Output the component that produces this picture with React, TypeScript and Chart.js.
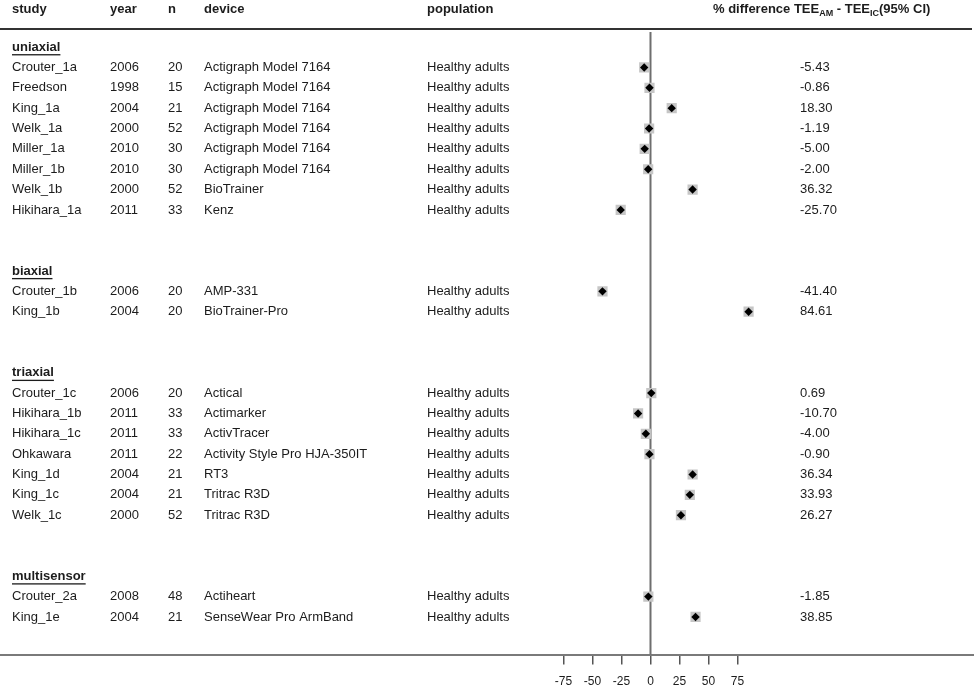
import { useEffect, useRef } from 'react';
import { Chart, registerables } from 'chart.js';

Chart.register(...registerables);

const groups = ['uniaxial', 'biaxial', 'triaxial', 'multisensor'];
const groupSizes = [8, 2, 7, 2];
const studies = [
  'Crouter_1a', 'Freedson', 'King_1a', 'Welk_1a', 'Miller_1a', 'Miller_1b', 'Welk_1b', 'Hikihara_1a',
  'Crouter_1b', 'King_1b',
  'Crouter_1c', 'Hikihara_1b', 'Hikihara_1c', 'Ohkawara', 'King_1d', 'King_1c', 'Welk_1c',
  'Crouter_2a', 'King_1e',
];
const years = [
  '2006', '1998', '2004', '2000', '2010', '2010', '2000', '2011',
  '2006', '2004',
  '2006', '2011', '2011', '2011', '2004', '2004', '2000',
  '2008', '2004',
];
const sampleSizes = [
  '20', '15', '21', '52', '30', '30', '52', '33',
  '20', '20',
  '20', '33', '33', '22', '21', '21', '52',
  '48', '21',
];
const devices = [
  'Actigraph Model 7164', 'Actigraph Model 7164', 'Actigraph Model 7164', 'Actigraph Model 7164',
  'Actigraph Model 7164', 'Actigraph Model 7164', 'BioTrainer', 'Kenz',
  'AMP-331', 'BioTrainer-Pro',
  'Actical', 'Actimarker', 'ActivTracer', 'Activity Style Pro HJA-350IT', 'RT3', 'Tritrac R3D', 'Tritrac R3D',
  'Actiheart', 'SenseWear Pro ArmBand',
];
const populations = [
  'Healthy adults', 'Healthy adults', 'Healthy adults', 'Healthy adults', 'Healthy adults',
  'Healthy adults', 'Healthy adults', 'Healthy adults', 'Healthy adults', 'Healthy adults',
  'Healthy adults', 'Healthy adults', 'Healthy adults', 'Healthy adults', 'Healthy adults',
  'Healthy adults', 'Healthy adults', 'Healthy adults', 'Healthy adults',
];
const differences = [
  -5.43, -0.86, 18.30, -1.19, -5.00, -2.00, 36.32, -25.70,
  -41.40, 84.61,
  0.69, -10.70, -4.00, -0.90, 36.34, 33.93, 26.27,
  -1.85, 38.85,
];
const xTicks = [-75, -50, -25, 0, 25, 50, 75];
const columnHeaders = ['study', 'year', 'n', 'device', 'population'];

const FONT = "'Liberation Sans', Arial, sans-serif";
const TEXT = '#1c1c1c';

// row layout: group header row, then study rows, then two blank rows
const headerRows: number[] = [];
const studyRows: number[] = [];
{
  let r = 0;
  groupSizes.forEach((size) => {
    headerRows.push(r);
    r++;
    for (let i = 0; i < size; i++) studyRows.push(r++);
    r += 2;
  });
}

const colX = [12, 110, 168, 204, 427];
const valueX = 800;
const titleX = 713;
const headerRowValue = -1.86;

const tablePlugin = {
  id: 'forestTable',
  beforeDatasetsDraw(chart: any) {
    const { ctx, chartArea } = chart;
    const xs = chart.scales.x;
    const x0 = xs.getPixelForValue(0);
    ctx.save();
    ctx.strokeStyle = '#6e6e6e';
    ctx.lineWidth = 2;
    ctx.beginPath();
    ctx.moveTo(x0, chartArea.top + 3);
    ctx.lineTo(x0, chartArea.bottom);
    ctx.stroke();
    ctx.restore();
  },
  afterDraw(chart: any) {
    const { ctx, chartArea } = chart;
    const ys = chart.scales.y;
    ctx.save();
    // top rule
    ctx.fillStyle = '#333333';
    ctx.fillRect(0, chartArea.top - 1, 972, 2);

    ctx.textBaseline = 'middle';
    ctx.textAlign = 'left';
    ctx.fillStyle = TEXT;

    // column headers
    const hy = ys.getPixelForValue(headerRowValue);
    ctx.font = `bold 13px ${FONT}`;
    columnHeaders.forEach((h, i) => ctx.fillText(h, colX[i], hy));

    // effect header with subscripts
    let tx = titleX;
    const parts: [string, boolean][] = [
      ['% difference TEE', false],
      ['AM', true],
      [' - TEE', false],
      ['IC', true],
      ['(95% CI)', false],
    ];
    parts.forEach(([s, sub]) => {
      ctx.font = sub ? `bold 9px ${FONT}` : `bold 13px ${FONT}`;
      ctx.fillText(s, tx, sub ? hy + 4 : hy);
      tx += ctx.measureText(s).width;
    });

    // group headers
    groups.forEach((g, i) => {
      const y = ys.getPixelForValue(headerRows[i]);
      ctx.font = `bold 13px ${FONT}`;
      ctx.fillText(g, colX[0], y);
      const w = ctx.measureText(g).width;
      ctx.fillRect(colX[0], y + 7, w, 1.3);
    });

    // study rows
    ctx.font = `13px ${FONT}`;
    studies.forEach((s, i) => {
      const y = ys.getPixelForValue(studyRows[i]);
      ctx.fillText(s, colX[0], y);
      ctx.fillText(years[i], colX[1], y);
      ctx.fillText(sampleSizes[i], colX[2], y);
      ctx.fillText(devices[i], colX[3], y);
      ctx.fillText(populations[i], colX[4], y);
      ctx.fillText(differences[i].toFixed(2), valueX, y);
    });
    ctx.restore();
  },
};

export default function App() {
  const ref = useRef<HTMLCanvasElement | null>(null);
  useEffect(() => {
    document.body.style.margin = '0';
    const diamondPoints = differences.map((v, i) => ({ x: v, y: studyRows[i] }));
    const squarePoints = differences.map((v, i) => ({ x: v, y: studyRows[i] }));
    const chart = new Chart(ref.current as HTMLCanvasElement, {
      type: 'scatter',
      data: {
        datasets: [
          {
            data: diamondPoints,
            pointStyle: 'rectRot',
            pointRadius: 4.2,
            pointHoverRadius: 4.2,
            backgroundColor: '#000000',
            borderWidth: 0,
            order: 0,
          },
          {
            data: squarePoints,
            pointStyle: 'rect',
            pointRadius: 7.2,
            pointHoverRadius: 7.2,
            backgroundColor: '#c6c6c6',
            borderWidth: 0,
            order: 1,
          },
        ],
      },
      options: {
        responsive: false,
        maintainAspectRatio: false,
        devicePixelRatio: 1,
        animation: false,
        events: [],
        layout: { autoPadding: false, padding: { top: 29, bottom: 0, left: 0, right: 0 } },
        plugins: { legend: { display: false }, tooltip: { enabled: false } },
        scales: {
          x: {
            type: 'linear',
            min: -561,
            max: 279,
            afterBuildTicks: (axis: any) => {
              axis.ticks = xTicks.map((v) => ({ value: v }));
            },
            ticks: {
              font: { family: FONT, size: 12 },
              color: TEXT,
              padding: 10,
              autoSkip: false,
              maxRotation: 0,
            },
            grid: {
              drawOnChartArea: false,
              drawTicks: true,
              tickLength: 10,
              color: '#555555',
              lineWidth: 1.5,
            },
            border: { display: true, color: '#7a7a7a', width: 2 },
          },
          y: {
            type: 'linear',
            display: false,
            reverse: true,
            min: -0.89,
            max: 29.85,
          },
        },
      },
      plugins: [tablePlugin],
    } as any);
    return () => chart.destroy();
  }, []);
  return (
    <div style={{ position: 'fixed', left: 0, top: 0, width: 974, height: 687, overflow: 'hidden', background: '#fff' }}>
      <canvas ref={ref} width={974} height={699} style={{ display: 'block' }} />
    </div>
  );
}
